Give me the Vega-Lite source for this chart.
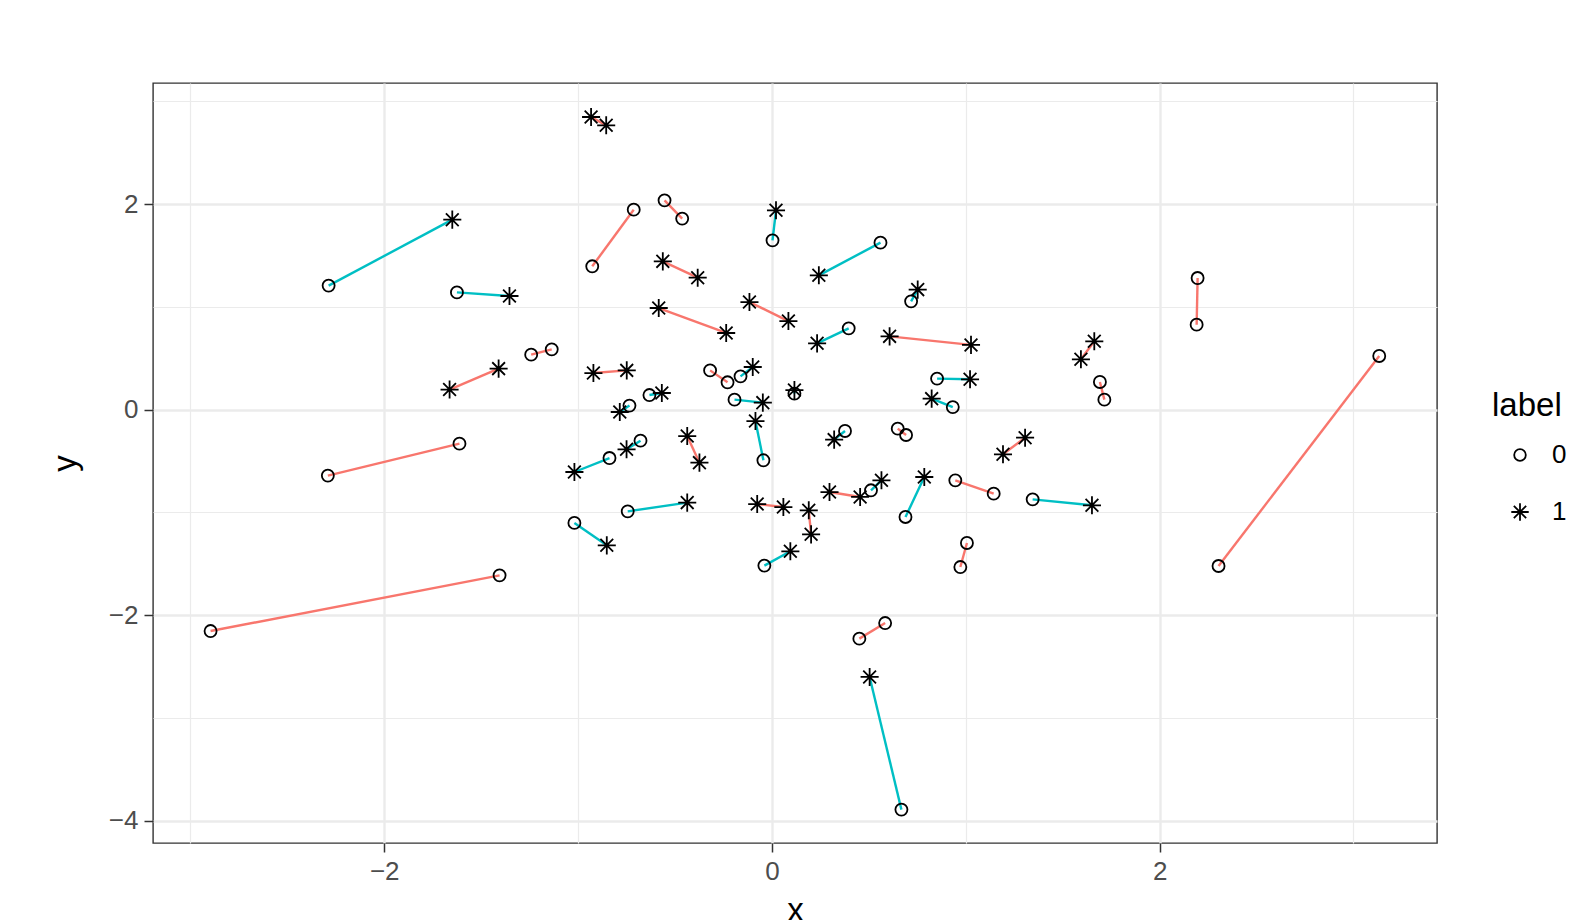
{
  "$schema": "https://vega.github.io/schema/vega-lite/v6.json",
  "width": 1284,
  "height": 760,
  "autosize": {"type": "none"},
  "padding": {"left": 153, "top": 83, "right": 159, "bottom": 77},
  "background": "white",
  "config": {
    "font": "Liberation Sans",
    "view": {"stroke": "#333333", "strokeWidth": 1.4},
    "axis": {
      "domain": false,
      "gridColor": "#EBEBEB",
      "tickColor": "#333333",
      "tickSize": 9,
      "tickWidth": 1.5,
      "labelFont": "Liberation Sans",
      "labelFontSize": 26,
      "labelColor": "#4D4D4D",
      "labelPadding": 6,
      "titleFont": "Liberation Sans",
      "titleFontSize": 33,
      "titleFontWeight": "normal",
      "titleColor": "#000000"
    },
    "legend": {
      "titleFont": "Liberation Sans",
      "titleFontSize": 33,
      "titleFontWeight": "normal",
      "titleColor": "#000000",
      "labelFont": "Liberation Sans",
      "labelFontSize": 26,
      "labelColor": "#000000",
      "padding": 0
    }
  },
  "data": {
    "values": [
      {"p": 1, "x": -2.287, "y": 1.207, "label": "0", "t": "diff"},
      {"p": 1, "x": -1.649, "y": 1.849, "label": "1", "t": "diff"},
      {"p": 2, "x": -1.625, "y": 1.141, "label": "0", "t": "diff"},
      {"p": 2, "x": -1.354, "y": 1.106, "label": "1", "t": "diff"},
      {"p": 3, "x": -0.933, "y": 2.848, "label": "1", "t": "same"},
      {"p": 3, "x": -0.855, "y": 2.767, "label": "1", "t": "same"},
      {"p": 4, "x": -0.927, "y": 1.395, "label": "0", "t": "same"},
      {"p": 4, "x": -0.713, "y": 1.946, "label": "0", "t": "same"},
      {"p": 5, "x": -0.554, "y": 2.037, "label": "0", "t": "same"},
      {"p": 5, "x": -0.463, "y": 1.859, "label": "0", "t": "same"},
      {"p": 6, "x": 0.021, "y": 1.940, "label": "1", "t": "diff"},
      {"p": 6, "x": 0.003, "y": 1.648, "label": "0", "t": "diff"},
      {"p": 7, "x": 0.560, "y": 1.625, "label": "0", "t": "diff"},
      {"p": 7, "x": 0.242, "y": 1.307, "label": "1", "t": "diff"},
      {"p": 8, "x": -0.563, "y": 1.443, "label": "1", "t": "same"},
      {"p": 8, "x": -0.383, "y": 1.284, "label": "1", "t": "same"},
      {"p": 9, "x": 0.718, "y": 1.054, "label": "0", "t": "diff"},
      {"p": 9, "x": 0.752, "y": 1.168, "label": "1", "t": "diff"},
      {"p": 10, "x": -0.584, "y": 0.989, "label": "1", "t": "same"},
      {"p": 10, "x": -0.236, "y": 0.746, "label": "1", "t": "same"},
      {"p": 11, "x": -0.116, "y": 1.047, "label": "1", "t": "same"},
      {"p": 11, "x": 0.085, "y": 0.862, "label": "1", "t": "same"},
      {"p": 12, "x": 0.396, "y": 0.791, "label": "0", "t": "diff"},
      {"p": 12, "x": 0.233, "y": 0.645, "label": "1", "t": "diff"},
      {"p": 13, "x": 0.607, "y": 0.713, "label": "1", "t": "same"},
      {"p": 13, "x": 1.027, "y": 0.630, "label": "1", "t": "same"},
      {"p": 14, "x": 2.196, "y": 1.281, "label": "0", "t": "same"},
      {"p": 14, "x": 2.191, "y": 0.827, "label": "0", "t": "same"},
      {"p": 15, "x": -1.663, "y": 0.195, "label": "1", "t": "same"},
      {"p": 15, "x": -1.410, "y": 0.399, "label": "1", "t": "same"},
      {"p": 16, "x": -1.242, "y": 0.535, "label": "0", "t": "same"},
      {"p": 16, "x": -1.136, "y": 0.587, "label": "0", "t": "same"},
      {"p": 17, "x": -2.291, "y": -0.642, "label": "0", "t": "same"},
      {"p": 17, "x": -1.612, "y": -0.331, "label": "0", "t": "same"},
      {"p": 18, "x": -1.405, "y": -1.613, "label": "0", "t": "same"},
      {"p": 18, "x": -2.896, "y": -2.155, "label": "0", "t": "same"},
      {"p": 19, "x": -0.921, "y": 0.356, "label": "1", "t": "same"},
      {"p": 19, "x": -0.749, "y": 0.382, "label": "1", "t": "same"},
      {"p": 20, "x": -0.735, "y": 0.039, "label": "0", "t": "diff"},
      {"p": 20, "x": -0.785, "y": -0.023, "label": "1", "t": "diff"},
      {"p": 21, "x": -0.632, "y": 0.142, "label": "0", "t": "diff"},
      {"p": 21, "x": -0.568, "y": 0.162, "label": "1", "t": "diff"},
      {"p": 22, "x": -0.319, "y": 0.382, "label": "0", "t": "same"},
      {"p": 22, "x": -0.229, "y": 0.266, "label": "0", "t": "same"},
      {"p": 23, "x": -0.162, "y": 0.324, "label": "0", "t": "diff"},
      {"p": 23, "x": -0.099, "y": 0.415, "label": "1", "t": "diff"},
      {"p": 24, "x": -0.193, "y": 0.097, "label": "0", "t": "diff"},
      {"p": 24, "x": -0.047, "y": 0.068, "label": "1", "t": "diff"},
      {"p": 25, "x": 0.116, "y": 0.190, "label": "1", "t": "diff"},
      {"p": 25, "x": 0.116, "y": 0.156, "label": "0", "t": "diff"},
      {"p": 26, "x": 0.852, "y": 0.302, "label": "0", "t": "diff"},
      {"p": 26, "x": 1.022, "y": 0.295, "label": "1", "t": "diff"},
      {"p": 27, "x": 0.824, "y": 0.107, "label": "1", "t": "diff"},
      {"p": 27, "x": 0.933, "y": 0.025, "label": "0", "t": "diff"},
      {"p": 28, "x": -0.085, "y": -0.111, "label": "1", "t": "diff"},
      {"p": 28, "x": -0.044, "y": -0.493, "label": "0", "t": "diff"},
      {"p": 29, "x": 0.377, "y": -0.208, "label": "0", "t": "diff"},
      {"p": 29, "x": 0.321, "y": -0.292, "label": "1", "t": "diff"},
      {"p": 30, "x": 0.649, "y": -0.185, "label": "0", "t": "same"},
      {"p": 30, "x": 0.692, "y": -0.247, "label": "0", "t": "same"},
      {"p": 31, "x": -0.838, "y": -0.471, "label": "0", "t": "diff"},
      {"p": 31, "x": -1.019, "y": -0.607, "label": "1", "t": "diff"},
      {"p": 32, "x": -0.678, "y": -0.302, "label": "0", "t": "diff"},
      {"p": 32, "x": -0.750, "y": -0.386, "label": "1", "t": "diff"},
      {"p": 33, "x": -0.437, "y": -0.257, "label": "1", "t": "same"},
      {"p": 33, "x": -0.374, "y": -0.516, "label": "1", "t": "same"},
      {"p": 34, "x": -0.744, "y": -0.990, "label": "0", "t": "diff"},
      {"p": 34, "x": -0.437, "y": -0.905, "label": "1", "t": "diff"},
      {"p": 35, "x": -1.019, "y": -1.103, "label": "0", "t": "diff"},
      {"p": 35, "x": -0.852, "y": -1.321, "label": "1", "t": "diff"},
      {"p": 36, "x": -0.076, "y": -0.919, "label": "1", "t": "same"},
      {"p": 36, "x": 0.059, "y": -0.948, "label": "1", "t": "same"},
      {"p": 37, "x": 0.190, "y": -0.980, "label": "1", "t": "same"},
      {"p": 37, "x": 0.202, "y": -1.214, "label": "1", "t": "same"},
      {"p": 38, "x": -0.039, "y": -1.518, "label": "0", "t": "diff"},
      {"p": 38, "x": 0.095, "y": -1.379, "label": "1", "t": "diff"},
      {"p": 39, "x": 0.297, "y": -0.802, "label": "1", "t": "same"},
      {"p": 39, "x": 0.455, "y": -0.850, "label": "1", "t": "same"},
      {"p": 40, "x": 0.511, "y": -0.785, "label": "0", "t": "diff"},
      {"p": 40, "x": 0.565, "y": -0.688, "label": "1", "t": "diff"},
      {"p": 41, "x": 0.689, "y": -1.045, "label": "0", "t": "diff"},
      {"p": 41, "x": 0.786, "y": -0.656, "label": "1", "t": "diff"},
      {"p": 42, "x": 0.946, "y": -0.688, "label": "0", "t": "same"},
      {"p": 42, "x": 1.144, "y": -0.818, "label": "0", "t": "same"},
      {"p": 43, "x": 1.006, "y": -1.298, "label": "0", "t": "same"},
      {"p": 43, "x": 0.972, "y": -1.532, "label": "0", "t": "same"},
      {"p": 44, "x": 1.663, "y": 0.665, "label": "1", "t": "same"},
      {"p": 44, "x": 1.594, "y": 0.490, "label": "1", "t": "same"},
      {"p": 45, "x": 1.692, "y": 0.269, "label": "0", "t": "same"},
      {"p": 45, "x": 1.715, "y": 0.097, "label": "0", "t": "same"},
      {"p": 46, "x": 1.306, "y": -0.273, "label": "1", "t": "same"},
      {"p": 46, "x": 1.192, "y": -0.435, "label": "1", "t": "same"},
      {"p": 47, "x": 1.345, "y": -0.873, "label": "0", "t": "diff"},
      {"p": 47, "x": 1.651, "y": -0.931, "label": "1", "t": "diff"},
      {"p": 48, "x": 3.133, "y": 0.522, "label": "0", "t": "same"},
      {"p": 48, "x": 2.304, "y": -1.522, "label": "0", "t": "same"},
      {"p": 49, "x": 0.451, "y": -2.229, "label": "0", "t": "same"},
      {"p": 49, "x": 0.584, "y": -2.077, "label": "0", "t": "same"},
      {"p": 50, "x": 0.504, "y": -2.602, "label": "1", "t": "diff"},
      {"p": 50, "x": 0.668, "y": -3.893, "label": "0", "t": "diff"}
    ]
  },
  "resolve": {"axis": {"x": "independent", "y": "independent"}},
  "layer": [
    {
      "mark": {"type": "line", "strokeWidth": 2.4},
      "encoding": {
        "x": {
          "field": "x", "type": "quantitative",
          "scale": {"domain": [-3.193, 3.431], "nice": false, "zero": false},
          "axis": {"values": [-2, 0, 2], "grid": true, "gridWidth": 2.4, "title": "x", "titlePadding": 10}
        },
        "y": {
          "field": "y", "type": "quantitative",
          "scale": {"domain": [-4.218, 3.179], "nice": false, "zero": false},
          "axis": {"values": [-4, -2, 0, 2], "grid": true, "gridWidth": 2.4, "title": "y", "titlePadding": 26}
        },
        "detail": {"field": "p", "type": "nominal"},
        "color": {
          "field": "t", "type": "nominal",
          "scale": {"domain": ["same", "diff"], "range": ["#F8766D", "#00BFC4"]},
          "legend": null
        }
      }
    },
    {
      "mark": {"type": "point", "filled": false, "color": "#000000", "opacity": 1, "size": 145, "strokeWidth": 1.8},
      "encoding": {
        "x": {
          "field": "x", "type": "quantitative",
          "axis": {"orient": "bottom", "values": [-3, -1, 1, 3], "grid": true, "gridWidth": 1.2, "labels": false, "ticks": false, "domain": false, "title": null}
        },
        "y": {
          "field": "y", "type": "quantitative",
          "axis": {"orient": "left", "values": [-3, -1, 1, 3], "grid": true, "gridWidth": 1.2, "labels": false, "ticks": false, "domain": false, "title": null}
        },
        "shape": {
          "field": "label", "type": "nominal",
          "scale": {"domain": ["0", "1"], "range": ["circle", "M0,-1.5L0,1.5M-1.5,0L1.5,0M-1.06,-1.06L1.06,1.06M-1.06,1.06L1.06,-1.06"]},
          "legend": {
            "title": "label",
            "orient": "none",
            "legendX": 1339,
            "legendY": 307,
            "titlePadding": 19,
            "rowPadding": 31,
            "symbolSize": 135,
            "symbolOffset": 15,
            "labelOffset": 19,
            "symbolStrokeColor": "#000000",
            "symbolStrokeWidth": 1.8
          }
        }
      }
    }
  ]
}
